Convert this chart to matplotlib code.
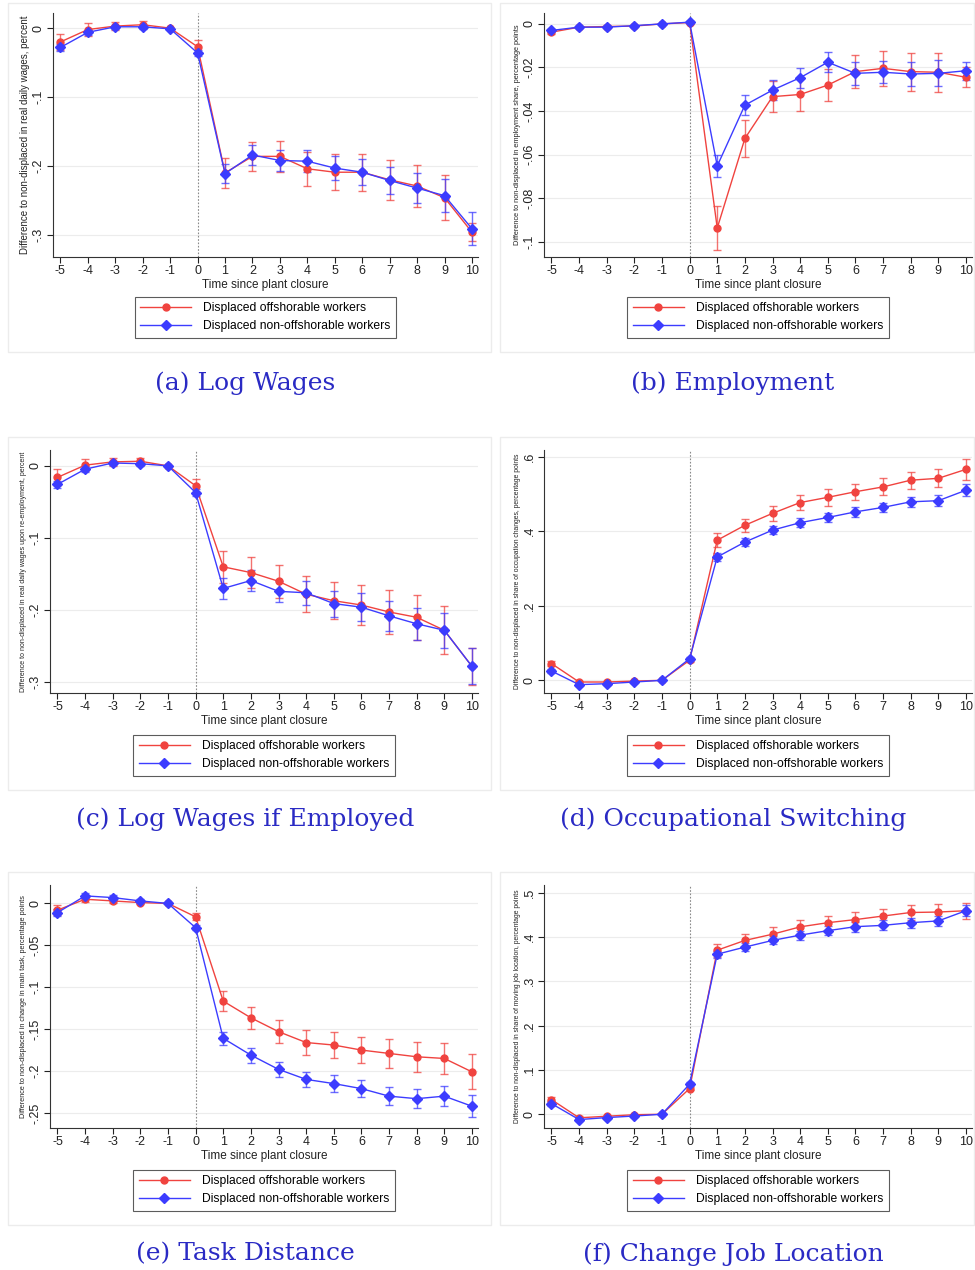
import matplotlib
matplotlib.use("Agg")
import matplotlib.pyplot as plt
from matplotlib.patches import Rectangle
from matplotlib.ticker import FuncFormatter

plt.rcParams["font.family"] = ["Liberation Sans", "DejaVu Sans"]
plt.rcParams["axes.unicode_minus"] = False

years = list(range(-5, 11))

# (a) log wages
wage_off = [-0.020, -0.002, 0.003, 0.005, 0.000, -0.027, -0.210, -0.186, -0.186, -0.204,
            -0.209, -0.209, -0.220, -0.229, -0.246, -0.296]
wage_off_ci = [0.012, 0.010, 0.006, 0.005, 0.000, 0.010, 0.022, 0.021, 0.022, 0.025,
               0.026, 0.027, 0.029, 0.031, 0.033, 0.013]
wage_non = [-0.028, -0.006, 0.002, 0.002, -0.001, -0.036, -0.211, -0.184, -0.192, -0.193,
            -0.203, -0.209, -0.221, -0.232, -0.243, -0.291]
wage_non_ci = [0.005, 0.004, 0.003, 0.003, 0.000, 0.005, 0.014, 0.015, 0.015, 0.016,
               0.017, 0.019, 0.020, 0.022, 0.024, 0.024]

# (b) employment
emp_off = [-0.0038, -0.0015, -0.0012, -0.0010, 0.0000, 0.0006, -0.0937, -0.0526, -0.0334, -0.0324,
           -0.0281, -0.0219, -0.0204, -0.0219, -0.0222, -0.0245]
emp_off_ci = [0.0008, 0.0006, 0.0006, 0.0006, 0.0, 0.0005, 0.0100, 0.0083, 0.0070, 0.0074,
              0.0075, 0.0077, 0.0080, 0.0087, 0.0090, 0.0045]
emp_non = [-0.0030, -0.0015, -0.0015, -0.0008, 0.0000, 0.0008, -0.0652, -0.0373, -0.0304, -0.0247,
           -0.0176, -0.0227, -0.0222, -0.0230, -0.0227, -0.0215]
emp_non_ci = [0.0006, 0.0005, 0.0005, 0.0005, 0.0, 0.0005, 0.0050, 0.0046, 0.0046, 0.0045,
              0.0046, 0.0052, 0.0051, 0.0057, 0.0060, 0.0042]

# (c) log wages if employed
wemp_off = [-0.016, 0.001, 0.0055, 0.0064, 0.000, -0.0276, -0.140, -0.148, -0.160, -0.178,
            -0.187, -0.193, -0.2026, -0.210, -0.228, -0.278]
wemp_off_ci = [0.011, 0.008, 0.006, 0.005, 0.000, 0.009, 0.022, 0.022, 0.023, 0.025,
               0.026, 0.028, 0.030, 0.031, 0.033, 0.026]
wemp_non = [-0.0257, -0.0046, 0.004, 0.003, 0.000, -0.037, -0.170, -0.159, -0.174, -0.176,
            -0.191, -0.196, -0.208, -0.219, -0.228, -0.278]
wemp_non_ci = [0.005, 0.004, 0.003, 0.003, 0.000, 0.005, 0.014, 0.015, 0.015, 0.017,
               0.018, 0.019, 0.021, 0.022, 0.024, 0.025]

# (d) occupational switching
occ_off = [0.045, -0.0045, -0.0045, -0.002, 0.000, 0.054, 0.376, 0.416, 0.448, 0.477,
           0.491, 0.506, 0.519, 0.537, 0.542, 0.566]
occ_off_ci = [0.006, 0.003, 0.003, 0.002, 0.0, 0.004, 0.018, 0.018, 0.020, 0.020,
              0.022, 0.022, 0.023, 0.023, 0.024, 0.028]
occ_non = [0.025, -0.0116, -0.009, -0.0045, 0.000, 0.058, 0.331, 0.371, 0.403, 0.423,
           0.437, 0.452, 0.464, 0.479, 0.482, 0.510]
occ_non_ci = [0.005, 0.003, 0.003, 0.002, 0.0, 0.004, 0.010, 0.010, 0.011, 0.012,
              0.012, 0.013, 0.013, 0.014, 0.014, 0.016]

# (e) task distance
task_off = [-0.008, 0.005, 0.003, 0.001, 0.000, -0.016, -0.1166, -0.1365, -0.153, -0.166,
            -0.169, -0.175, -0.179, -0.183, -0.185, -0.201]
task_off_ci = [0.006, 0.003, 0.003, 0.002, 0.0, 0.004, 0.012, 0.013, 0.014, 0.015,
               0.015, 0.016, 0.017, 0.018, 0.018, 0.021]
task_non = [-0.011, 0.009, 0.007, 0.003, 0.000, -0.029, -0.161, -0.181, -0.198, -0.210,
            -0.215, -0.221, -0.230, -0.233, -0.230, -0.242]
task_non_ci = [0.004, 0.003, 0.003, 0.002, 0.0, 0.003, 0.008, 0.009, 0.009, 0.009,
               0.010, 0.010, 0.011, 0.011, 0.012, 0.013]

# (f) change job location
loc_off = [0.033, -0.008, -0.0045, -0.001, 0.000, 0.058, 0.370, 0.392, 0.406, 0.4226,
           0.432, 0.439, 0.447, 0.455, 0.456, 0.459]
loc_off_ci = [0.006, 0.003, 0.003, 0.002, 0.0, 0.004, 0.015, 0.015, 0.016, 0.016,
              0.016, 0.017, 0.017, 0.017, 0.018, 0.018]
loc_non = [0.024, -0.012, -0.0075, -0.004, 0.000, 0.068, 0.361, 0.377, 0.392, 0.404,
           0.414, 0.423, 0.426, 0.432, 0.436, 0.459]
loc_non_ci = [0.005, 0.003, 0.003, 0.002, 0.0, 0.004, 0.008, 0.009, 0.009, 0.010,
              0.010, 0.011, 0.011, 0.011, 0.012, 0.013]

panels = [
    dict(off=wage_off, off_ci=wage_off_ci, non=wage_non, non_ci=wage_non_ci,
         ylabel="Difference to non-displaced in real daily wages, percent",
         yticks=[0, -0.1, -0.2, -0.3], ylim=(-0.332, 0.022), ylsize=7.0,
         caption="(a) Log Wages"),
    dict(off=emp_off, off_ci=emp_off_ci, non=emp_non, non_ci=emp_non_ci,
         ylabel="Difference to non-displaced in employment share, percentage points",
         yticks=[0, -0.02, -0.04, -0.06, -0.08, -0.1], ylim=(-0.107, 0.005), ylsize=5.3,
         caption="(b) Employment"),
    dict(off=wemp_off, off_ci=wemp_off_ci, non=wemp_non, non_ci=wemp_non_ci,
         ylabel="Difference to non-displaced in real daily wages upon re-employment, percent",
         yticks=[0, -0.1, -0.2, -0.3], ylim=(-0.315, 0.022), ylsize=5.0,
         caption="(c) Log Wages if Employed"),
    dict(off=occ_off, off_ci=occ_off_ci, non=occ_non, non_ci=occ_non_ci,
         ylabel="Difference to non-displaced in share of occupation changes, percentage points",
         yticks=[0, 0.2, 0.4, 0.6], ylim=(-0.034, 0.618), ylsize=4.9,
         caption="(d) Occupational Switching"),
    dict(off=task_off, off_ci=task_off_ci, non=task_non, non_ci=task_non_ci,
         ylabel="Difference to non-displaced in change in main task, percentage points",
         yticks=[0, -0.05, -0.1, -0.15, -0.2, -0.25], ylim=(-0.268, 0.022), ylsize=5.2,
         caption="(e) Task Distance"),
    dict(off=loc_off, off_ci=loc_off_ci, non=loc_non, non_ci=loc_non_ci,
         ylabel="Difference to non-displaced in share of moving job location, percentage points",
         yticks=[0, 0.1, 0.2, 0.3, 0.4, 0.5], ylim=(-0.031, 0.517), ylsize=4.9,
         caption="(f) Change Job Location"),
]

W, H = 975, 1270
RED = "#f0433f"
BLUE = "#3c3cff"

# pixel boxes of the plot areas: left, right, top, bottom
boxes = [(53, 478, 13, 257), (544, 972, 13, 257),
         (50, 478, 450, 693), (544, 972, 450, 693),
         (50, 478, 885, 1128), (544, 972, 885, 1128)]
# faint frame around each graph
frames = [(8, 491, 3, 352), (500, 974, 3, 352),
          (8, 491, 437, 790), (500, 974, 437, 790),
          (8, 491, 872, 1225), (500, 974, 872, 1225)]
caption_y = [383, 383, 819, 819, 1254, 1254]


def stata_fmt(v, _):
    if abs(v) < 1e-12:
        return "0"
    s = f"{v:g}"
    return s.replace("0.", ".")


fig = plt.figure(figsize=(W / 100, H / 100), dpi=100)

for i, p in enumerate(panels):
    l, r, t, b = boxes[i]
    ax = fig.add_axes([l / W, 1 - b / H, (r - l) / W, (b - t) / H])

    fl, fr, ft, fb = frames[i]
    fig.patches.append(Rectangle((fl / W, 1 - fb / H), (fr - fl) / W, (fb - ft) / H,
                                 transform=fig.transFigure, fill=False,
                                 edgecolor="#ececec", linewidth=1.0, zorder=0))

    for yt in p["yticks"]:
        ax.axhline(yt, color="#ececec", linewidth=0.8, zorder=0)
    ax.axvline(0, color="#8a8a8a", linestyle=(0, (1.5, 1.5)), linewidth=0.8, zorder=1)

    ax.errorbar(years, p["off"], yerr=p["off_ci"], fmt="none", ecolor=RED,
                elinewidth=1.0, capsize=3, capthick=1.0, alpha=0.75, zorder=2)
    ax.errorbar(years, p["non"], yerr=p["non_ci"], fmt="none", ecolor=BLUE,
                elinewidth=1.0, capsize=3, capthick=1.0, alpha=0.75, zorder=3)
    ax.plot(years, p["off"], color=RED, linewidth=1.0, marker="o", markersize=5,
            label="Displaced offshorable workers", zorder=4)
    ax.plot(years, p["non"], color=BLUE, linewidth=1.0, marker="D", markersize=5,
            label="Displaced non-offshorable workers", zorder=5)

    ax.set_xlim(-5.27, 10.22)
    ax.set_ylim(*p["ylim"])
    ax.set_xticks(years)
    ax.set_yticks(p["yticks"])
    ax.yaxis.set_major_formatter(FuncFormatter(stata_fmt))
    ax.tick_params(axis="x", labelsize=9, length=4, width=0.8, colors="#222222", pad=2)
    ax.tick_params(axis="y", labelsize=9, length=4, width=0.8, colors="#222222",
                   labelrotation=90, pad=2)
    for lab in ax.get_yticklabels():
        lab.set_verticalalignment("center")

    for side in ("top", "right"):
        ax.spines[side].set_visible(False)
    for side in ("left", "bottom"):
        ax.spines[side].set_color("#333333")
        ax.spines[side].set_linewidth(0.8)

    ax.set_xlabel("Time since plant closure", fontsize=8.5, labelpad=1, color="#222222")
    ax.set_ylabel(p["ylabel"], fontsize=p["ylsize"], labelpad=2, color="#222222")

    leg = ax.legend(loc="upper center", bbox_to_anchor=((l + r) / 2 / W, 1 - (fb - 55) / H),
                    bbox_transform=fig.transFigure, borderaxespad=0, fontsize=8.7,
                    frameon=True, fancybox=False, edgecolor="#333333", handlelength=4.2,
                    borderpad=0.45, labelspacing=0.5, handletextpad=1.0)
    leg.get_frame().set_linewidth(0.8)

    cx = (fl + fr) / 2 - 4
    fig.text(cx / W, 1 - caption_y[i] / H, p["caption"], ha="center", va="center",
             fontsize=18, color="#2a2ac4", family=["DejaVu Serif"])

fig.savefig("out.png", dpi=100, facecolor="white")
